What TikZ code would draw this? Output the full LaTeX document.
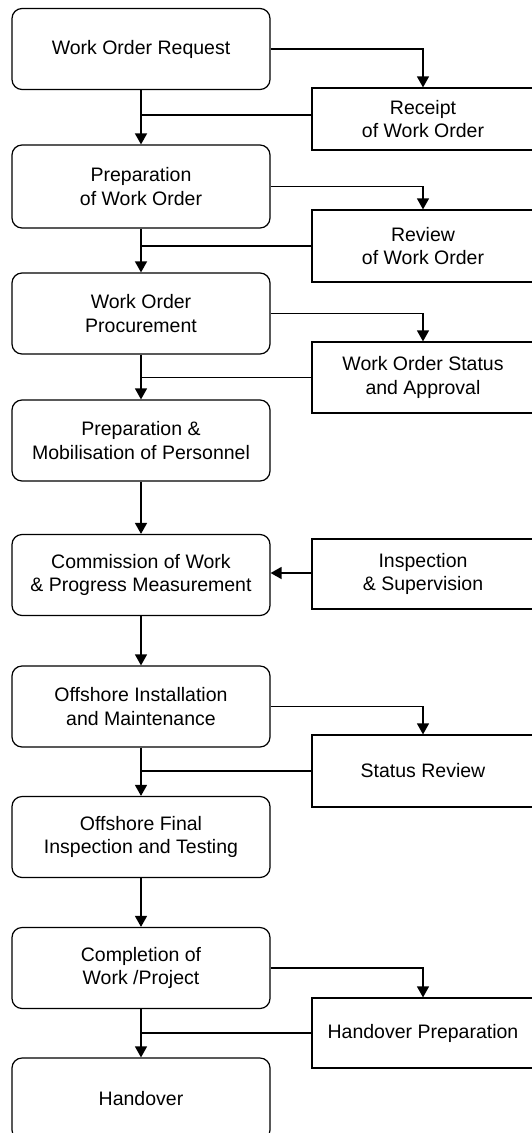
\documentclass[tikz,border=0pt]{standalone}
\usepackage{fontspec}
\setmainfont{Liberation Sans}
\usetikzlibrary{arrows.meta}
\tikzset{
  stage/.style={draw, rounded corners=10pt, line width=1.2pt,
    minimum width=258pt, minimum height=81pt, align=center,
    font=\fontsize{19.5pt}{23.5pt}\selectfont, inner sep=0pt},
  check/.style={draw, line width=1.2pt, minimum width=222pt,
    align=center, font=\fontsize{19.5pt}{23.5pt}\selectfont, inner sep=0pt},
  flow/.style={line width=1.2pt, -{Triangle[width=12pt,length=11pt]}},
  link/.style={line width=1.1pt},
}
\begin{document}
\begin{tikzpicture}[x=1pt,y=-1pt]
\useasboundingbox (0,0) rectangle (532,1133);
\clip (0,0) rectangle (532,1133);

% main sequence of stages
\node[stage] (s1) at (141,49)    {Work Order Request};
\node[stage, minimum height=83pt] (s2) at (141,186.5) {Preparation\\of Work Order};
\node[stage] (s3) at (141,313.5) {Work Order\\Procurement};
\node[stage] (s4) at (141,440.5) {Preparation \&\\Mobilisation of Personnel};
\node[stage] (s5) at (141,575)   {Commission of Work\\\& Progress Measurement};
\node[stage] (s6) at (141,706.5) {Offshore Installation\\and Maintenance};
\node[stage] (s7) at (141,837)   {Offshore Final\\Inspection and Testing};
\node[stage] (s8) at (141,968)   {Completion of\\Work /Project};
\node[stage, minimum height=82pt] (s9) at (141,1099) {Handover};

% side checks
\node[check, minimum height=62pt] (c1) at (423,119)   {Receipt\\of Work Order};
\node[check, minimum height=72pt] (c2) at (423,246)   {Review\\of Work Order};
\node[check, minimum height=71pt] (c3) at (423,377.5) {Work Order Status\\and Approval};
\node[check, minimum height=70pt] (c4) at (423,574)   {Inspection\\\& Supervision};
\node[check, minimum height=72pt] (c5) at (423,771)   {Status Review};
\node[check, minimum height=70pt] (c6) at (423,1033)  {Handover Preparation};

% downward flow
\draw[flow, line width=1.5pt] (s1) -- (s2);
\draw[flow, line width=1.5pt] (s2) -- (s3);
\draw[flow] (s3) -- (s4);
\draw[flow, line width=1.5pt] (s4) -- (s5);
\draw[flow] (s5) -- (s6);
\draw[flow] (s6) -- (s7);
\draw[flow] (s7) -- (s8);
\draw[flow] (s8) -- (s9);

% branches out to the checks
\draw[flow] (s1.east) -| (c1.north);
\draw[flow] (s2.east) -| (c2.north);
\draw[flow] (s3.east) -| (c3.north);
\draw[flow] (s6.east) -| (c5.north);
\draw[flow] (s8.east) -| (c6.north);

% checks feeding back into the flow
\draw[link] (c1.west |- 0,115) -- (s1.south |- 0,115);
\draw[link] (c2.west) -- (c2.west -| s2.south);
\draw[link] (c3.west) -- (c3.west -| s3.south);
\draw[flow, line width=1.5pt] (c4.west |- 0,573) -- (s5.east |- 0,573);
\draw[link] (c5.west) -- (c5.west -| s6.south);
\draw[link] (c6.west) -- (c6.west -| s8.south);
\end{tikzpicture}
\end{document}
